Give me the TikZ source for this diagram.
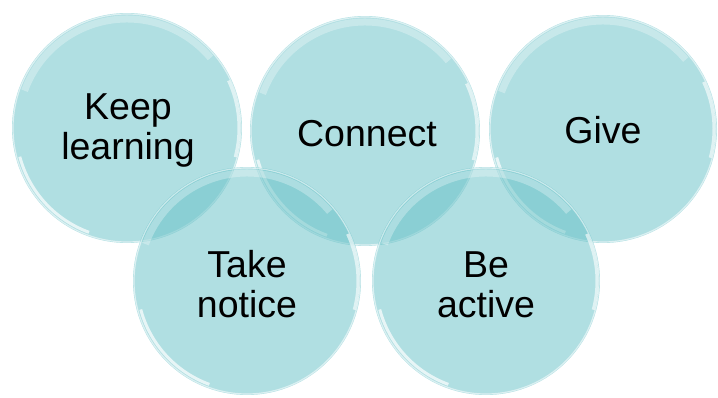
\documentclass[tikz,border=0pt]{standalone}
\usepackage{fontspec}
\setmainfont{Liberation Sans}
\definecolor{bub}{RGB}{103,193,199}
\newcommand\glassbub[3]{%
 \fill[bubble] (#1,#2) circle (#3);
 \draw[white, opacity=0.55, line width=1.2] (#1,#2) circle (#3-1);
 \draw[white, opacity=0.3, line width=7] ([shift={(#1,#2)}]160:#3-6) arc (160:40:#3-6);
 \draw[white, opacity=0.7, line width=3] ([shift={(#1,#2)}]195:#3-4) arc (195:250:#3-4);
 \draw[white, opacity=0.6, line width=3] ([shift={(#1,#2)}]-15:#3-3) arc (-15:25:#3-3);
}
\begin{document}
\begin{tikzpicture}[x=1pt,y=1pt,
 bubble/.style={fill=bub, fill opacity=0.52},
 lab/.style={font=\fontsize{37.5}{40}\selectfont, align=center, text=black, inner sep=0pt}]
\useasboundingbox (0,0) rectangle (718,397);
\glassbub{127}{269}{115}
\glassbub{365}{266}{115}
\glassbub{603}{268}{114}
\glassbub{247}{116}{114}
\glassbub{486}{116}{114}
\node[lab] (keep) at (128,267) {Keep\\learning};
\node[lab] (conn) at (367,263.5) {Connect};
\node[lab] (give) at (603,266.5) {Give};
\node[lab] (take) at (247,112.5) {Take\\notice};
\node[lab] (be) at (486,112.5) {Be\\active};
\end{tikzpicture}
\end{document}
